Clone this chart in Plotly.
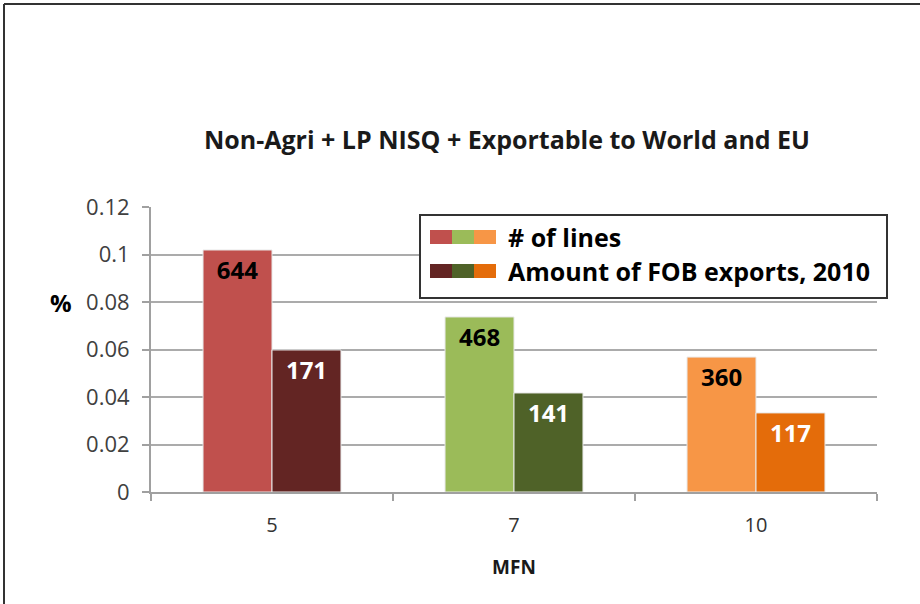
import plotly.graph_objects as go

categories = ["5", "7", "10"]
lines_share = [0.1019, 0.0737, 0.0568]
lines_labels = ["644", "468", "360"]
fob_share = [0.0598, 0.0417, 0.0333]
fob_labels = ["171", "141", "117"]
lines_colors = ["#C0504D", "#9BBB59", "#F79646"]
fob_colors = ["#632523", "#4F6228", "#E46C0A"]
series_names = ["# of lines", "Amount of FOB exports, 2010"]
y_ticks = [0, 0.02, 0.04, 0.06, 0.08, 0.1, 0.12]
y_tick_text = ["0", "0.02", "0.04", "0.06", "0.08", "0.1", "0.12"]

W, H = 920, 604
L, R, T, B = 151, 43, 207, 112
PW, PH = W - L - R, H - T - B


def px(x):
    return (x - L) / PW


def py(y):
    return (H - B - y) / PH


FONT = "'Open Sans', Lato, sans-serif"

fig = go.Figure()
fig.add_trace(go.Bar(
    x=categories, y=lines_share, name=series_names[0],
    marker=dict(color=lines_colors, line=dict(color="#E8E8E8", width=1)),
    text=lines_labels, textposition="inside", insidetextanchor="end",
    textangle=0,
    textfont=dict(color="black", size=24, family=FONT, weight="bold"),
    showlegend=False,
))
fig.add_trace(go.Bar(
    x=categories, y=fob_share, name=series_names[1],
    marker=dict(color=fob_colors, line=dict(color="#E8E8E8", width=1)),
    text=fob_labels, textposition="inside", insidetextanchor="end",
    textangle=0,
    textfont=dict(color="white", size=24, family=FONT, weight="bold"),
    showlegend=False,
))

shapes = []
# outer frame (top and left)
shapes.append(dict(type="line", xref="paper", yref="paper",
                   x0=px(4), x1=px(W), y0=py(4), y1=py(4),
                   line=dict(color="#333333", width=2)))
shapes.append(dict(type="line", xref="paper", yref="paper",
                   x0=px(4), x1=px(4), y0=py(4), y1=py(H),
                   line=dict(color="#333333", width=2)))
# legend box
shapes.append(dict(type="rect", xref="paper", yref="paper",
                   x0=px(420), x1=px(887), y0=py(298), y1=py(215),
                   fillcolor="white", line=dict(color="#333333", width=2)))
annotations = []
row_y = [237, 271]
for ri, (cols, name) in enumerate([(lines_colors, series_names[0]),
                                     (fob_colors, series_names[1])]):
    y0, y1 = row_y[ri] - 7, row_y[ri] + 7
    for ci, c in enumerate(cols):
        shapes.append(dict(type="rect", xref="paper", yref="paper",
                           x0=px(430 + 22 * ci), x1=px(452 + 22 * ci),
                           y0=py(y1), y1=py(y0), fillcolor=c,
                           line=dict(width=0)))
    annotations.append(dict(xref="paper", yref="paper", x=px(506),
                            y=py(row_y[ri]), xanchor="left", yanchor="middle",
                            text=name, showarrow=False,
                            font=dict(size=25, color="black", family=FONT,
                                      weight="bold")))
# % label
annotations.append(dict(xref="paper", yref="paper", x=px(61), y=py(302),
                        xanchor="center", yanchor="middle", text="%",
                        showarrow=False,
                        font=dict(size=24, color="black", family=FONT,
                                  weight="bold")))

fig.update_layout(
    width=W, height=H,
    margin=dict(l=L, r=R, t=T, b=B),
    paper_bgcolor="white", plot_bgcolor="white",
    barmode="group", bargap=0.43, bargroupgap=0,
    title=dict(text="Non-Agri + LP NISQ + Exportable to World and EU",
               xref="container", x=507 / W, xanchor="center",
               y=1 - 140 / H, yanchor="middle",
               font=dict(size=25, color="#1a1a1a", family=FONT, weight="bold")),
    font=dict(family=FONT),
    shapes=shapes,
    annotations=annotations,
)
fig.update_yaxes(range=[0, 0.12], tickvals=y_ticks, ticktext=y_tick_text,
                 showgrid=True, gridcolor="#ABABAB", gridwidth=2,
                 showline=True, linecolor="#A0A0A0", linewidth=2,
                 ticks="outside", ticklen=7, tickcolor="#A0A0A0", tickwidth=2,
                 ticklabelstandoff=8,
                 tickfont=dict(size=22, color="#404040", family=FONT),
                 zeroline=False)
fig.update_xaxes(showline=True, linecolor="#A0A0A0", linewidth=2,
                 ticks="outside", tickson="boundaries", ticklen=7,
                 tickcolor="#A0A0A0", tickwidth=2, showgrid=False,
                 ticklabelstandoff=14,
                 tickfont=dict(size=20, color="#333333", family=FONT),
                 title=dict(text="MFN", standoff=24,
                            font=dict(size=19, color="#1a1a1a", family=FONT,
                                      weight="bold")))

fig.write_html("out.html", config={"displayModeBar": False},
               post_script="document.body.style.margin='0';")
